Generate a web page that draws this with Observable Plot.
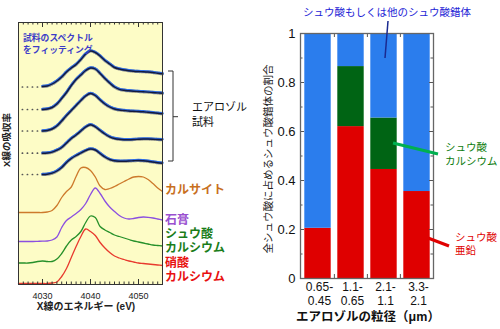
<!DOCTYPE html>
<html><head><meta charset="utf-8">
<script src="https://cdn.jsdelivr.net/npm/d3@7"></script>
<script src="https://cdn.jsdelivr.net/npm/@observablehq/plot@0.6"></script>
<style>
body{margin:0;background:#fff;}
#wrap{position:relative;width:500px;height:329px;overflow:hidden;font-family:"Liberation Sans",Arial,"Noto Sans CJK JP",sans-serif;}
#wrap svg{position:absolute;top:0;}
.lbl{position:absolute;white-space:nowrap;line-height:1;}
</style></head>
<body><div id="wrap"></div>
<script>
// ---------- left panel data: X-ray absorption spectra (offset, relative units) ----------
const energyAll = [4025,4026,4027,4028,4029,4030,4031,4032,4033,4034,4035,4036,4037,4038,4039,4040,4041,4042,4043,4044,4045,4046,4047,4048,4049,4050,4051,4052,4053,4054,4055];
const energySample = [4030,4031,4032,4033,4034,4035,4036,4037,4038,4039,4040,4041,4042,4043,4044,4045,4046,4047,4048,4049,4050,4051,4052,4053,4054,4055];
const calcite   = [0.72,0.72,0.72,0.72,0.72,0.72,0.725,0.74,0.79,0.87,0.93,0.975,1.08,1.165,1.17,1.14,1.075,0.985,0.95,0.96,0.98,1.005,1.03,1.055,1.075,1.08,1.075,1.05,1.01,0.965,0.93];
const gypsum    = [0.43,0.43,0.43,0.43,0.432,0.434,0.435,0.445,0.475,0.57,0.64,0.675,0.71,0.75,0.81,0.90,0.965,0.91,0.835,0.775,0.73,0.69,0.665,0.655,0.66,0.67,0.675,0.672,0.665,0.655,0.645];
const caOxalate = [0.215,0.215,0.215,0.22,0.23,0.235,0.23,0.23,0.255,0.31,0.385,0.445,0.48,0.53,0.62,0.685,0.67,0.58,0.545,0.52,0.495,0.48,0.465,0.45,0.435,0.425,0.415,0.405,0.395,0.39,0.385];
const caNitrate = [0.01,0.01,0.01,0.01,0.01,0.01,0.01,0.015,0.025,0.08,0.16,0.27,0.38,0.48,0.555,0.53,0.49,0.42,0.365,0.32,0.285,0.265,0.25,0.235,0.225,0.215,0.21,0.205,0.2,0.195,0.19];
const sample1 = [1.98,1.985,2.005,2.035,2.075,2.125,2.165,2.20,2.25,2.305,2.335,2.32,2.285,2.24,2.205,2.17,2.155,2.145,2.138,2.133,2.13,2.128,2.125,2.12,2.113,2.107];
const sample2 = [1.75,1.755,1.77,1.805,1.86,1.92,1.99,2.05,2.095,2.14,2.165,2.155,2.11,2.06,2.015,1.975,1.952,1.942,1.937,1.933,1.93,1.927,1.924,1.92,1.916,1.912];
const sample3 = [1.535,1.54,1.555,1.585,1.635,1.69,1.74,1.79,1.84,1.885,1.91,1.89,1.845,1.805,1.775,1.755,1.745,1.74,1.735,1.732,1.73,1.727,1.722,1.717,1.712,1.707];
const sample4 = [1.313,1.315,1.323,1.343,1.37,1.415,1.46,1.495,1.535,1.575,1.597,1.577,1.54,1.505,1.477,1.46,1.452,1.448,1.448,1.45,1.453,1.455,1.455,1.453,1.45,1.448];
const sample5 = [1.10,1.103,1.113,1.135,1.17,1.22,1.26,1.29,1.315,1.34,1.355,1.345,1.31,1.275,1.25,1.237,1.233,1.233,1.235,1.238,1.24,1.237,1.232,1.225,1.218,1.213];
const sampleBaseline = [1.975,1.75,1.535,1.313,1.10];
const preEdgeRange = [4025.8, 4029.3];
const energyMajorTicks = [4030,4040,4050];
const energyMinorTicks = [4026,4027,4028,4029,4031,4032,4033,4034,4035,4036,4037,4038,4039,4041,4042,4043,4044,4045,4046,4047,4048,4049,4051,4052,4053,4054];

// ---------- right panel data: fraction of oxalate complexes by particle size ----------
const sizeUpper = ["0.65-","1.1-","2.1-","3.3-"];
const sizeLower = ["0.45","0.65","1.1","2.1"];
const particleSizes = ["0.65-0.45","1.1-0.65","2.1-1.1","3.3-2.1"];
const components = ["シュウ酸亜鉛","シュウ酸カルシウム","シュウ酸もしくは他のシュウ酸錯体"];
const zincOxalate    = [0.205, 0.62, 0.445, 0.355];
const calciumOxalate = [0, 0.245, 0.21, 0];
const otherOxalate   = [0.795, 0.135, 0.345, 0.645];
const fractionTicks = [0,0.2,0.4,0.6,0.8,1];
const fractionMinor = [0.1,0.3,0.5,0.7,0.9];

const FONT = '"Liberation Sans", Arial, "Noto Sans CJK JP", sans-serif';
const wrap = document.getElementById("wrap");

// ---- left plot ----
const refSpectra = [
  {values: calcite, color: "#cd7a2c"},
  {values: gypsum, color: "#8b4fe0"},
  {values: caOxalate, color: "#26902a"},
  {values: caNitrate, color: "#e83a2e"}
];
const samples = [sample1, sample2, sample3, sample4, sample5];
const refMarks = refSpectra.map(r => Plot.line(energyAll.map((e,i)=>({e, v:r.values[i]})), {x:"e", y:"v", stroke:r.color, strokeWidth:1.3, curve:"catmull-rom"}));
const sampleMarks = samples.flatMap((s,k) => {
  const pts = energySample.map((e,i)=>({e, v:s[i]}));
  const pre = preEdgeRange.map(e=>({e, v:sampleBaseline[k]}));
  return [
    Plot.line(pre, {x:"e", y:"v", stroke:"#555", strokeWidth:1.7, strokeDasharray:"0.2,4.8", strokeLinecap:"round"}),
    Plot.line(pts, {x:"e", y:"v", stroke:"#7a7a7a", strokeWidth:3.2, strokeDasharray:"1,1.3", strokeOpacity:0.8, curve:"catmull-rom"}),
    Plot.line(pts, {x:"e", y:"v", stroke:"#2f6fe8", strokeWidth:2.4, dy:-0.5, curve:"catmull-rom"}),
    Plot.line(pts, {x:"e", y:"v", stroke:"#141a3c", strokeWidth:1.4, curve:"catmull-rom"})
  ];
});
const lph = 329 - 22 - 45;
const left = Plot.plot({
  width:170, height:329, marginLeft:18, marginRight:8, marginTop:22, marginBottom:45,
  style:{fontFamily:FONT, background:"transparent", color:"#222"},
  x:{domain:[4025,4055]},
  y:{domain:[0,2.62], axis:null},
  marks:[
    Plot.frame({fill:"#fdfcc6", stroke:null}),
    ...refMarks,
    ...sampleMarks,
    Plot.tickX(energyMinorTicks, {x:d=>d, insetTop:lph-2.5, stroke:"#333"}),
    Plot.tickX(energyMinorTicks, {x:d=>d, insetBottom:lph-2.5, stroke:"#333"}),
    Plot.tickX(energyMajorTicks, {x:d=>d, insetTop:lph-5, stroke:"#333"}),
    Plot.tickX(energyMajorTicks, {x:d=>d, insetBottom:lph-5, stroke:"#333"}),
    Plot.axisX({ticks:energyMajorTicks, tickSize:0, tickPadding:8, fontSize:9, label:null, tickFormat:d=>String(d)}),
    Plot.frame({stroke:"#333"})
  ]
});
left.style.left = "0px";
wrap.appendChild(left);

// ---- right plot ----
const stackData = particleSizes.flatMap((s,i)=>[
  {size:s, comp:components[0], value:zincOxalate[i]},
  {size:s, comp:components[1], value:calciumOxalate[i]},
  {size:s, comp:components[2], value:otherOxalate[i]}
]);
const upperOf = Object.fromEntries(particleSizes.map((s,i)=>[s, sizeUpper[i]]));
const lowerOf = Object.fromEntries(particleSizes.map((s,i)=>[s, sizeLower[i]]));
const rpw = 250 - 50 - 67, rph = 329 - 33 - 51;
const right = Plot.plot({
  width:250, height:329, marginLeft:50, marginRight:67, marginTop:33, marginBottom:51,
  style:{fontFamily:FONT, background:"transparent", color:"#111"},
  x:{domain:particleSizes, padding:0},
  y:{domain:[0,1]},
  color:{domain:components, range:["#df0000","#006414","#2b7ded"]},
  marks:[
    Plot.barY(stackData, {x:"size", y:"value", fill:"comp", insetLeft:3.3, insetRight:3.3}),
    Plot.tickY(fractionTicks, {y:d=>d, insetRight:rpw-4, stroke:"#555"}),
    Plot.tickY(fractionTicks, {y:d=>d, insetLeft:rpw-4, stroke:"#555"}),
    Plot.tickY(fractionMinor, {y:d=>d, insetRight:rpw-2.5, stroke:"#555"}),
    Plot.tickY(fractionMinor, {y:d=>d, insetLeft:rpw-2.5, stroke:"#555"}),
    Plot.tickX(particleSizes.slice(1), {x:d=>d, dx:-rpw/8, insetBottom:rph-4, stroke:"#555"}),
    Plot.tickX(particleSizes.slice(1), {x:d=>d, dx:-rpw/8, insetTop:rph-4, stroke:"#555"}),
    Plot.axisY({ticks:fractionTicks, tickSize:0, tickPadding:5, fontSize:13, label:null, tickFormat:d=>String(d)}),
    Plot.axisX({tickSize:0, tickPadding:4, fontSize:12, label:null, tickFormat:d=>upperOf[d], dx:1.5}),
    Plot.axisX({tickSize:0, tickPadding:17.5, fontSize:12, label:null, tickFormat:d=>lowerOf[d], dx:1.5}),
    Plot.frame({stroke:"#666", strokeWidth:1.3})
  ]
});
right.style.left = "250px";
wrap.appendChild(right);

// ---- annotation overlay (bracket + leader lines) ----
const ns = "http://www.w3.org/2000/svg";
const ov = document.createElementNS(ns, "svg");
ov.setAttribute("width", 500); ov.setAttribute("height", 329);
ov.style.left = "0px";
ov.innerHTML = `
  <path d="M168,71H173V161H168M173,116.7H178" fill="none" stroke="#333" stroke-width="1"/>
  <line x1="388" y1="21" x2="385" y2="58" stroke="#1a2a90" stroke-width="1.5"/>
  <line x1="393" y1="143" x2="438" y2="154" stroke="#00b050" stroke-width="3"/>
  <line x1="428" y1="238" x2="449" y2="246" stroke="#e00000" stroke-width="3"/>`;
wrap.appendChild(ov);

// ---- text labels ----
function label(text, x, cy, size, color, opts={}) {
  const d = document.createElement("div");
  d.className = "lbl";
  d.textContent = text;
  d.style.fontSize = size + "px";
  d.style.color = color;
  d.style.fontWeight = opts.weight || "normal";
  d.style.left = x + "px";
  d.style.top = (cy - size/2) + "px";
  let t = "";
  if (opts.anchor === "middle") t += "translateX(-50%) ";
  if (opts.rotate) { d.style.top = cy + "px"; t = "translate(-50%,-50%) rotate(-90deg)"; }
  d.style.transform = t;
  wrap.appendChild(d);
}
label("試料のスペクトル", 23, 38, 8.8, "#3c3cc8", {weight:"bold"});
label("をフィッティング", 23, 50, 8.8, "#3c3cc8", {weight:"bold"});
label("エアロゾル", 192, 107.5, 11, "#111");
label("試料", 192, 122.5, 11, "#111");
label("カルサイト", 165, 189.5, 12, "#c8701e", {weight:"bold"});
label("石膏", 165, 220, 12, "#9a50d0", {weight:"bold"});
label("シュウ酸", 165, 234, 12, "#1a7d1a", {weight:"bold"});
label("カルシウム", 165, 247.5, 12, "#1a7d1a", {weight:"bold"});
label("硝酸", 165, 263, 12, "#e81010", {weight:"bold"});
label("カルシウム", 165, 277, 12, "#e81010", {weight:"bold"});
label("X線のエネルギー (eV)", 86, 307, 10, "#222", {anchor:"middle", weight:"bold"});
label("X線の吸収率", 7, 140, 9.5, "#222", {rotate:true, weight:"bold"});

label("シュウ酸もしくは他のシュウ酸錯体", 387, 12, 10.5, "#1d1dd6", {anchor:"middle"});
label("シュウ酸", 445, 147, 10.5, "#0c7c0c");
label("カルシウム", 445, 161, 10.5, "#0c7c0c");
label("シュウ酸", 455, 237, 10.5, "#e00000");
label("亜鉛", 455, 250, 10.5, "#e00000");
label("全シュウ酸に占めるシュウ酸錯体の割合", 268, 158.5, 10.5, "#222", {rotate:true});
label("エアロゾルの粒径（μm）", 368, 317, 12.5, "#111", {anchor:"middle", weight:"bold"});
</script>
</body></html>
